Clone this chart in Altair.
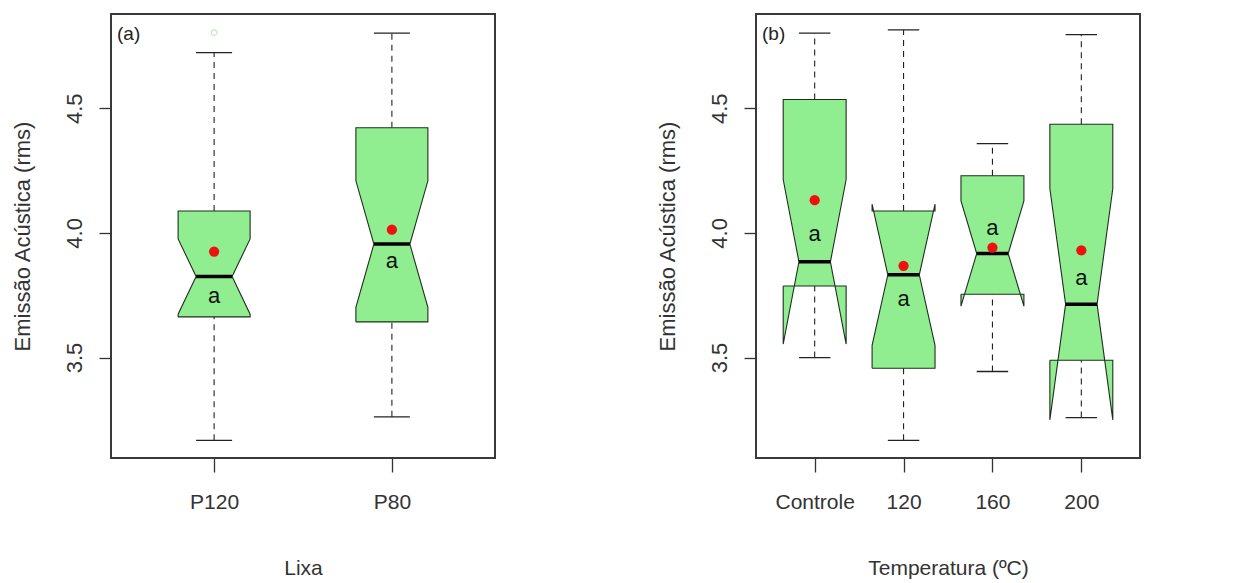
import altair as alt
import pandas as pd

# ---------------- Panel (a): Lixa ----------------
cats_a = ["P120", "P80"]
lo_a = [3.168, 3.262]
q1_a = [3.663, 3.643]
med_a = [3.825, 3.955]
q3_a = [4.088, 4.422]
hi_a = [4.723, 4.801]
notch_a = [0.151, 0.254]
mean_a = [3.925, 4.013]
letter_a = [3.747, 3.888]
out_cat_a = ["P120"]
out_val_a = [4.803]

# ---------------- Panel (b): Temperatura ----------------
cats_b = ["Controle", "120", "160", "200"]
lo_b = [3.500, 3.168, 3.444, 3.259]
q1_b = [3.787, 3.457, 3.754, 3.489]
med_b = [3.884, 3.832, 3.917, 3.714]
q3_b = [4.535, 4.088, 4.229, 4.436]
hi_b = [4.801, 4.814, 4.358, 4.795]
notch_b = [0.330, 0.283, 0.211, 0.464]
mean_b = [4.131, 3.868, 3.941, 3.930]
letter_b = [3.996, 3.735, 4.021, 3.820]
out_cat_b = []
out_val_b = []

Y_DOMAIN = [3.097, 4.878]
FILL = "#90EE90"
FONT = "Liberation Sans"
W, H = 384, 444


def panel(cats, lo, q1, med, q3, hi, notch, mean, letter, out_cat, out_val,
          halfw, xtitle, tag):
    n = len(cats)
    pos = list(range(1, n + 1))
    xdom = [0.5 - 0.04 * n, n + 0.5 + 0.04 * n]
    # polygon vertices of R-style notched boxes
    rows = []
    for i, c in enumerate(cats):
        p = pos[i]
        nl, nh = med[i] - notch[i], med[i] + notch[i]
        xs = [-1, 1, 1, 0.5, 1, 1, -1, -1, -0.5, -1, -1]
        ys = [q1[i], q1[i], nl, med[i], nh, q3[i], q3[i], nh, med[i], nl, q1[i]]
        for k, (fx, yy) in enumerate(zip(xs, ys)):
            rows.append({"box": c, "k": k, "x": p + fx * halfw, "y": yy})
    poly = pd.DataFrame(rows)
    stats = pd.DataFrame({
        "cat": cats, "pos": pos, "lo": lo, "q1": q1, "med": med, "q3": q3,
        "hi": hi, "mean": mean, "letter": letter,
    })
    stats["mx1"] = stats["pos"] - halfw * 0.5
    stats["mx2"] = stats["pos"] + halfw * 0.5
    stats["lab"] = "a"
    outs = pd.DataFrame({"cat": out_cat, "val": out_val})
    outs["pos"] = [cats.index(c) + 1 for c in out_cat]

    labexpr = "[" + ",".join("'%s'" % c for c in cats) + "][datum.value - 1]"
    xsc = alt.Scale(domain=xdom, nice=False, zero=False)
    ysc = alt.Scale(domain=Y_DOMAIN, nice=False, zero=False)
    xax = alt.Axis(values=pos, labelExpr=labexpr, title=xtitle, grid=False,
                   domain=False, tickSize=14, tickColor="#333", tickWidth=1.3,
                   labelFontSize=21, labelColor="#333", labelPadding=19,
                   titleFontSize=21, titleFontWeight="normal", titleColor="#333",
                   titleY=110, titleBaseline="middle", labelFont=FONT, titleFont=FONT)
    yax = alt.Axis(values=[3.5, 4.0, 4.5], format=".1f", title="Emissão Acústica (rms)",
                   grid=False, domain=False, tickSize=12, tickColor="#333", tickWidth=1.3,
                   labelAngle=-90, labelAlign="center", labelBaseline="bottom",
                   labelFontSize=22, labelColor="#333", labelPadding=13,
                   titleFontSize=22, titleFontWeight="normal", titleColor="#333",
                   titleX=-89, titleY=H / 2, titleBaseline="middle",
                   labelFont=FONT, titleFont=FONT)

    X = lambda f: alt.X(f, type="quantitative", scale=xsc, axis=xax)
    Y = lambda f: alt.Y(f, type="quantitative", scale=ysc, axis=yax)

    base = alt.Chart(stats)
    whisk_up = base.mark_rule(color="#222", strokeDash=[6, 5], strokeWidth=1.1).encode(
        x=X("pos"), y=Y("q3"), y2="hi")
    whisk_dn = base.mark_rule(color="#222", strokeDash=[6, 5], strokeWidth=1.1).encode(
        x=X("pos"), y=Y("lo"), y2="q1")
    cap_up = base.mark_rule(color="#222", strokeWidth=1.3).encode(
        x=X("mx1"), x2="mx2", y=Y("hi"))
    cap_dn = base.mark_rule(color="#222", strokeWidth=1.3).encode(
        x=X("mx1"), x2="mx2", y=Y("lo"))
    boxes = alt.Chart(poly).mark_line(fill=FILL, stroke="#1f2f1f", strokeWidth=1.1).encode(
        x=X("x"), y=Y("y"), order="k:Q", detail="box:N")
    median = base.mark_rule(color="black", strokeWidth=3.5).encode(
        x=X("mx1"), x2="mx2", y=Y("med"))
    means = base.mark_circle(color="#ee1111", opacity=1, size=105).encode(
        x=X("pos"), y=Y("mean"))
    letters = base.mark_text(fontSize=22, font=FONT, color="#111", baseline="middle").encode(
        x=X("pos"), y=Y("letter"), text="lab:N")
    layers = [whisk_up, whisk_dn, cap_up, cap_dn, boxes, median, means, letters]
    if len(outs):
        outl = alt.Chart(outs).mark_point(shape="circle", filled=False, color="#a8e6a8",
                                          size=30, strokeWidth=1.2).encode(
            x=X("pos"), y=Y("val"))
        layers.append(outl)
    tagtxt = alt.Chart(pd.DataFrame({"t": [tag]})).mark_text(
        fontSize=19, font=FONT, color="#222", align="left", baseline="middle").encode(
        x=alt.value(6), y=alt.value(20), text="t:N")
    layers.append(tagtxt)
    return alt.layer(*layers).properties(width=W, height=H)


pa = panel(cats_a, lo_a, q1_a, med_a, q3_a, hi_a, notch_a, mean_a, letter_a,
           out_cat_a, out_val_a, 0.2025, "Lixa", "(a)")
pb = panel(cats_b, lo_b, q1_b, med_b, q3_b, hi_b, notch_b, mean_b, letter_b,
           out_cat_b, out_val_b, 0.354, "Temperatura (ºC)", "(b)")

chart = alt.hconcat(pa, pb, spacing=159).properties(
    padding={"left": 10, "top": 13, "right": 5, "bottom": 5},
    background="white",
).configure(font=FONT).configure_view(stroke="#3a3a3a", strokeWidth=2)

chart.save("out.html", embed_options={"renderer": "svg", "actions": False})
